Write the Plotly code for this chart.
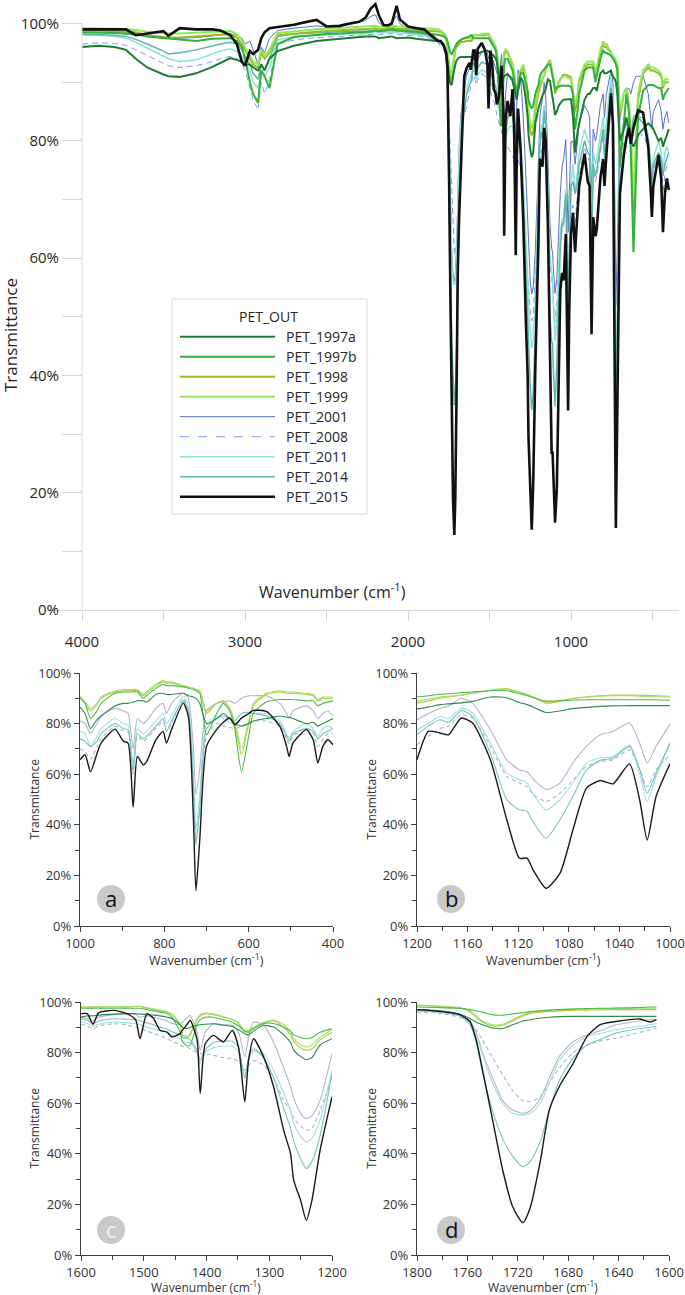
import plotly.graph_objects as go

W, H = 685, 1295
def px(x): return x / W
def py(y): return 1 - y / H

SERIES = ["PET_1997a", "PET_1997b", "PET_1998", "PET_1999", "PET_2001",
          "PET_2008", "PET_2011", "PET_2014", "PET_2015"]
COLORS_MAIN = ["#1e7b34", "#35b03a", "#9cba26", "#8ee85a", "#5b6fc4",
               "#7f9cf0", "#8de3d5", "#5fb5a8", "#111111"]
COLORS_INSET = ["#2e8b50", "#4cbb4c", "#b3c832", "#9fe06c", "#b4b4c8",
                "#aab4c6", "#a3dfdc", "#78c2c0", "#1a1a1a"]
WIDTH_MAIN = [2, 2, 2, 2, 1, 1, 1.5, 1.5, 2.6]
DASH = ["solid", "solid", "solid", "solid", "solid", "6px,4px", "solid", "solid", "solid"]
DRAW_ORDER = [4, 5, 6, 7, 2, 3, 1, 0, 8]
PCT_VALS = [0, 20, 40, 60, 80, 100]
PCT_TEXT = ["0%", "20%", "40%", "60%", "80%", "100%"]

# ---- 4000-1810 cm-1 (main panel only)
WN_HIGH = [4000, 3900, 3800, 3730, 3670, 3600, 3500, 3470, 3400, 3300,
           3200, 3150, 3090, 3050, 3020, 3000, 2970, 2950, 2920, 2900,
           2880, 2850, 2800, 2700, 2600, 2560, 2500, 2420, 2360, 2300,
           2260, 2230, 2200, 2180, 2150, 2120, 2100, 2070, 2050, 2000,
           1950, 1900, 1860, 1830, 1810]
HIGH_1997A = [96, 96.2, 96, 95.5, 94, 92.5, 91.3, 91, 90.9, 91.5, 92.6, 93.3, 94.1, 93.8, 93.5, 93, 93, 92.5, 92, 93,
              92, 94, 95.3, 96.2, 96.8, 97, 97.2, 97.4, 97.6, 97.8, 97.8, 97.8, 97.8, 97.5, 97.6, 97.7, 97.8, 97.5, 97.5, 97.6,
              97.4, 97.2, 97, 97, 97]
HIGH_1997B = [98.5, 98.5, 98.4, 98.3, 98.2, 97.8, 97.5, 97.4, 97.2, 97, 97.4, 97.5, 97.5, 97, 96, 94, 90, 88, 86.5, 92,
              91, 89, 96.5, 97.7, 98, 98.1, 98.2, 98.3, 98.4, 98.5, 98.5, 98.6, 98.8, 98.7, 98.8, 98.9, 99, 98.8, 98.8, 98.7,
              98.6, 98.4, 98.2, 98.1, 98]
HIGH_1998 = [98.8, 98.8, 98.7, 98.6, 98.5, 98, 97.7, 97.6, 97.6, 97.8, 98, 98.1, 98.2, 97.6, 96.5, 95.5, 94, 93, 92.5, 95,
             94, 95, 98, 98.3, 98.5, 98.6, 98.7, 98.8, 98.9, 99, 99, 99.1, 99.2, 99, 99.1, 99.2, 99.3, 99.1, 99.1, 99,
             98.9, 98.8, 98.7, 98.6, 98.6]
HIGH_1999 = [99.2, 99.2, 99.1, 99, 98.9, 98.6, 98.4, 98.3, 98.3, 98.4, 98.5, 98.6, 98.7, 98.2, 97.2, 96, 94.5, 93.5, 93, 95.5,
             94.5, 95.5, 98.4, 98.7, 98.9, 99, 99.1, 99.2, 99.3, 99.4, 99.4, 99.5, 99.6, 99.4, 99.5, 99.6, 99.7, 99.5, 99.5, 99.4,
             99.3, 99.2, 99.1, 99, 99]
HIGH_2001 = [98.5, 98.5, 98.4, 98.2, 98, 97.8, 97.5, 97.4, 97.5, 97.6, 97.9, 98, 98.2, 98, 97.5, 96.5, 97, 95.5, 93, 96,
             95, 97.5, 98.8, 99.2, 99.5, 99.6, 99.4, 99.5, 99.8, 100.2, 100.5, 101.2, 101.5, 100.2, 99.5, 99.6, 100, 101.3, 100, 99,
             98.8, 98.6, 98.3, 97.6, 97.2]
HIGH_2008 = [96.5, 96.7, 96.6, 96.3, 95.5, 94.5, 93.2, 92.8, 92.5, 92.8, 93.5, 94, 94.4, 94, 93, 92, 89, 87, 85.3, 90,
             88, 90.5, 96.5, 97.2, 97.5, 97.6, 97.7, 97.8, 97.9, 98, 98, 98.1, 98.2, 98, 98.1, 98.2, 98.3, 98.1, 98.1, 98,
             97.9, 97.8, 97.4, 97, 96.5]
HIGH_2011 = [98, 98, 97.8, 97.5, 96.8, 95.8, 94.5, 94, 93.5, 93.8, 94.8, 95.3, 95.7, 95.2, 94.5, 93.5, 92, 90, 89, 92,
             91, 92.5, 97.2, 97.8, 98, 98.1, 98.1, 98.2, 98.2, 98.3, 98.3, 98.4, 98.4, 98.3, 98.4, 98.5, 98.5, 98.4, 98.4, 98.3,
             98.2, 98, 97.6, 97.2, 96.8]
HIGH_2014 = [98.2, 98.1, 98, 97.8, 97.3, 96.5, 95.3, 94.8, 95, 95.5, 96.2, 96.5, 96.8, 96.5, 95.5, 94.5, 93, 91.5, 90.5, 93,
             92, 94, 97.8, 98.2, 98.4, 98.5, 98.5, 98.6, 98.6, 98.7, 98.7, 98.8, 98.8, 98.6, 98.7, 98.8, 98.8, 98.7, 98.7, 98.5,
             98.4, 98.2, 97.8, 97.4, 97]
HIGH_2015 = [99, 99, 99, 99, 98, 98.3, 98.7, 97.9, 99.2, 99, 99, 98.8, 98, 96.5, 93.5, 92.8, 95.3, 94.8, 95.5, 97.5,
             98.5, 99.2, 99.4, 99.8, 100.4, 100.6, 99.5, 99.6, 100, 100.3, 101, 102.5, 103.3, 101.5, 99.7, 99.7, 100, 103, 100.7, 99.5,
             99.2, 99, 98, 97.3, 97]

# ---- panel d: 1800-1610 cm-1
WN_D = [1800, 1782, 1766, 1758, 1753, 1748, 1740, 1732, 1724, 1716,
        1710, 1702, 1695, 1687, 1676, 1665, 1655, 1642, 1623, 1615, 1610]
D_1997A = [97, 96.5, 95.2, 93.5, 92, 91, 89.7, 89.5, 91, 92.5, 93, 93.7, 94, 94.2, 94.3, 94.3, 94.3, 94.3, 94.3, 94.3, 94.3]
D_1997B = [98, 97.8, 97.5, 97, 96.5, 96, 95, 94.8, 95.3, 95.8, 96.2, 96.5, 96.8, 97, 97.2, 97.4, 97.5, 97.6, 97.8, 98, 98]
D_1998 = [98.6, 98.2, 97.5, 96, 94, 92, 90.5, 90.8, 92.5, 94.5, 95.5, 96, 96.3, 96.5, 96.8, 96.8, 96.9, 97, 97, 97, 97]
D_1999 = [98.8, 98.4, 97.8, 96.5, 94.5, 92.5, 91, 91.2, 93, 95, 96, 96.5, 96.8, 97, 97.2, 97.3, 97.4, 97.5, 97.5, 97.5, 97.5]
D_2001 = [97, 96.5, 95, 92.5, 88, 80, 70, 61, 57.3, 56, 57, 62, 70, 78.5, 84.4, 87, 88.5, 91, 92.5, 93, 93]
D_2008 = [96, 95.5, 94, 92, 89, 85, 78, 71.2, 65, 61, 60.6, 62.6, 68, 74, 80, 83, 84.5, 85.7, 88, 89, 89.7]
D_2011 = [96.5, 96, 94.5, 92, 87, 79, 68, 60, 56, 55.4, 56, 60, 68, 77, 83, 86.4, 87.5, 89, 90.5, 91, 91.5]
D_2014 = [96.8, 96, 94.5, 91, 84, 72, 57, 46, 39, 34.9, 37, 45, 57.3, 69, 78, 83, 85.1, 87.7, 89.5, 90, 90.4]
D_2015 = [97, 96.3, 95, 92.3, 85, 73.2, 53.4, 33.6, 19, 12.8, 19, 37.5, 57.3, 66.6, 75.8, 86.4, 91, 92.3, 93.3, 92.1, 93]

# ---- panel c: 1600-1200 cm-1
WN_C = [1600, 1590, 1581, 1572, 1548, 1527, 1513, 1506, 1495, 1484,
        1474, 1463, 1455, 1442, 1438, 1430, 1426, 1415, 1410, 1402,
        1389, 1373, 1359, 1349, 1339, 1333, 1325, 1309, 1293, 1277,
        1266, 1261, 1250, 1241, 1232, 1219, 1200]
C_1997A = [94, 94.5, 94.5, 94.8, 95.2, 95.4, 95.4, 95.2, 95, 94.8, 94.5, 94, 93.5, 91, 90, 89.5, 90, 90.8, 91, 91.2,
           91.4, 90.8, 90.3, 89, 87.5, 87, 88.5, 90.8, 90, 87, 84, 81, 78.5, 77.2, 78, 83, 85.5]
C_1997B = [97.5, 97.5, 97.5, 97.5, 97.5, 97.5, 97.5, 97.5, 97, 96.5, 96, 95.5, 94, 88, 84.2, 82.5, 83, 91, 93, 94,
           94, 93, 92, 90.5, 88.5, 88, 89.5, 91.5, 91.5, 90, 88.5, 87, 86, 85.5, 86, 88, 89.5]
C_1998 = [98, 98, 98, 98, 98, 98, 98.2, 98.2, 97.5, 97, 96.5, 96, 95, 91, 86.2, 86, 87, 93, 94.5, 95.4,
          95, 94, 93, 91.5, 88.1, 88.5, 89.5, 91.5, 92.5, 90, 87, 84.5, 81.8, 80.9, 81.5, 85, 88.1]
C_1999 = [98, 98, 98, 98, 98.2, 98.2, 98.3, 98.3, 97.8, 97.3, 96.8, 96.2, 95.3, 91.5, 87, 86.5, 87.5, 93.5, 95, 95.6,
          95.2, 94.2, 93.2, 91.8, 88.5, 89, 90, 92, 93, 91, 88, 85.5, 83, 82.2, 83, 86, 89]
C_2001 = [94, 93.5, 92.5, 94, 95, 95.4, 95, 94, 94.5, 94, 93.4, 92.5, 91.5, 91, 92, 94, 94.7, 88, 80.9, 88,
          91.4, 91, 90.8, 88, 78.3, 86, 92.1, 90.8, 84, 74, 66.4, 62, 56, 53.9, 55, 61.1, 79.6]
C_2008 = [91.2, 90.5, 89.5, 90.5, 91.4, 91, 90, 89.5, 88.5, 87.5, 86.8, 85.5, 84.5, 83, 82.5, 82, 81.5, 80, 79.6, 79.5,
          78.9, 78, 77.6, 76.5, 73, 75, 76.9, 75, 70, 61, 57, 54, 51, 49.3, 50, 57.2, 70.4]
C_2011 = [92.1, 91.5, 90.5, 91.2, 92.1, 91.8, 91.5, 91, 90, 89.3, 88.8, 88, 87, 85.5, 84.5, 84, 84, 80, 75.6, 80,
          81.9, 82.5, 82.5, 80.5, 70.4, 77, 80.5, 79.5, 73, 64, 57, 52, 47, 44.7, 46, 53.5, 73]
C_2014 = [93.4, 92.8, 91.5, 92.5, 93.4, 93.2, 93, 92.5, 91.8, 91, 90.1, 89.3, 88.2, 87, 86, 85.5, 85, 81, 77, 81,
          84, 84.5, 84.5, 82, 69.7, 78, 81.5, 78, 70, 58, 50, 45, 38, 34.1, 37, 47.2, 71.7]
C_2015 = [95.4, 95.4, 91.2, 95.7, 96.7, 95.4, 93, 85.5, 95.4, 93.4, 88.8, 88.1, 86.2, 87.5, 89, 91.5, 92.8, 85, 63.8, 83.5,
          86.8, 84.2, 88.8, 82.2, 60.5, 76.9, 85.5, 78.3, 66.4, 49.3, 40, 29.5, 21.6, 13.7, 21.6, 41.4, 62.5]

# ---- panel b: 1200-1000 cm-1
WN_B = [1200, 1191, 1182, 1175, 1165, 1156, 1142, 1129, 1119, 1113, 1108,
        1098, 1087, 1076, 1066, 1055, 1045, 1032, 1024, 1018, 1011, 1000]
B_1997A = [85.8, 86.5, 87.5, 87.8, 88.2, 88.8, 90.5, 90.2, 88.3, 87.5, 86.5, 84.4, 85, 86, 86.4, 86.8, 87, 87.1, 87.1, 87.1, 87.1, 87.1]
B_1997B = [90.5, 91, 91.6, 91.8, 92.2, 92.5, 93, 93, 91.8, 91, 90.2, 88.8, 89, 89.3, 89.4, 89.4, 89.4, 89.4, 89.4, 89.4, 89.4, 89.2]
B_1998 = [88.1, 89, 90, 90.5, 91.2, 92, 93.2, 93.8, 92.5, 91.6, 90.5, 88.1, 88.8, 90, 90.6, 91, 91.3, 91.3, 91.2, 91.1, 91, 90.8]
B_1999 = [88.8, 89.6, 90.5, 90.8, 91.3, 92, 93.2, 93.6, 92.3, 91.4, 90.3, 88.8, 89.2, 90, 90.4, 90.8, 91, 91, 90.8, 90.7, 90.6, 90.5]
B_2001 = [81.5, 84, 86, 87, 90, 88, 77.6, 65.7, 61.7, 61, 58, 54, 56.5, 65, 71, 75.6, 76.9, 80.2, 72.3, 64.4, 71, 79.8]
B_2008 = [71.6, 75, 78, 79, 83.5, 82.2, 71, 59.1, 56.5, 55.1, 52, 49.2, 52.5, 58, 63.1, 65, 65.7, 69.7, 62, 55.1, 61.7, 67.7]
B_2011 = [77.6, 80, 82.8, 82, 86.1, 84.2, 72.3, 60.4, 57.8, 56.5, 52, 45.9, 49.9, 57, 64.4, 66.5, 67, 71.6, 60, 49.2, 59.1, 72.3]
B_2014 = [75.6, 79, 81.5, 80.5, 85.2, 82.8, 68.3, 49.9, 45.9, 45.3, 41, 34.7, 42, 52, 61.7, 65.5, 66.4, 71, 62, 52.5, 60.4, 72.3]
B_2015 = [65.7, 76.9, 76.3, 75.6, 82.2, 80.2, 65.7, 42, 26.8, 26.8, 22, 14.9, 20.8, 39.3, 54.5, 57.5, 56.2, 64.1, 49.9, 34, 51.2, 64.1]

# ---- panel a: 1000-400 cm-1
WN_A = [1000, 988, 975, 960, 950, 917, 897, 886, 874, 864,
        850, 842, 820, 803, 795, 783, 755, 743, 731, 725,
        716, 700, 676, 660, 645, 633, 617, 600, 589, 558,
        526, 510, 504, 495, 463, 447, 436, 424, 412, 400]
A_1997A = [86.5, 84, 78, 81.5, 83, 87, 88, 88, 88.5, 89, 89, 88.5, 91.5, 92, 91.5, 91.5, 92, 91, 90.5, 90,
           88, 80, 82, 84, 82, 80, 79, 80, 81, 82, 83, 82.5, 82.5, 82, 80, 80.5, 79, 80, 81, 82]
A_1997B = [90, 88, 82, 85, 88, 92, 92.5, 92.5, 92.5, 92.5, 90, 91, 94, 95.5, 95, 95, 94.5, 94, 93.5, 93,
           92, 75.6, 84, 88, 85, 78, 61, 75, 84, 88.5, 89.5, 89.5, 89.5, 89.5, 89, 89, 87, 88, 88.5, 89]
A_1998 = [90.5, 88, 85, 87.5, 90, 92.5, 93, 93, 93, 93, 91, 92, 95, 96.5, 96, 96, 95, 94.5, 94, 93.5,
          93, 84, 88, 89, 86, 80, 67.7, 80, 87, 91.5, 92.5, 92, 92, 92, 91.5, 91, 89, 90, 90, 90]
A_1999 = [91, 88.5, 86, 88, 90.5, 93, 93.5, 93.5, 93.5, 93.5, 91.5, 92.5, 95.5, 97, 96.5, 96.5, 95, 94.5, 94, 93.5,
          93, 85, 88, 89, 86, 81, 70, 81, 88, 92, 93, 92.5, 92.5, 92.5, 92, 91.5, 89.5, 90.5, 90.5, 90.5]
A_2001 = [81, 80, 76, 80, 83, 86, 85, 84, 70, 82, 80, 81, 86, 88, 84, 88, 92, 90, 70, 52,
          62, 85, 88, 88.5, 89, 88, 90, 91, 91, 91, 88, 84, 82, 85, 87, 85, 82, 84, 85, 83]
A_2008 = [70, 69, 66, 71, 74, 79, 77, 76.5, 60, 75, 73, 74, 78, 81, 77, 80, 90, 85, 55, 33,
          48, 75, 80, 79, 78.5, 78, 79, 80.5, 81, 81, 79, 74, 72, 75, 78, 76, 71, 74, 76, 76]
A_2011 = [77, 76, 71, 75, 78, 82, 80, 79.5, 63, 78, 76, 77, 81, 84, 80, 83, 91, 87, 60, 38,
          52, 80, 83, 82, 80.5, 80, 82, 84, 84, 84, 81, 76, 74, 77, 80, 78, 75, 78, 79, 78]
A_2014 = [74, 73, 71, 73, 76, 80, 78, 77.5, 61, 76, 74, 75, 79, 82, 77, 81, 89, 85, 55, 32,
          46, 78, 82, 83, 82, 81, 84, 84.5, 84, 83, 80, 75, 73, 76, 78, 77, 74, 76, 77, 78]
A_2015 = [65.7, 67.7, 61, 68, 72.3, 77.8, 73, 72.3, 47, 67, 63.7, 65, 73.6, 76.9, 72.3, 77.6, 88.1, 82.8, 42, 14,
          34, 71, 77.6, 80.5, 82.2, 79.5, 82.2, 84, 85.2, 84.8, 78.9, 71, 67, 72.3, 77.6, 73.6, 64.4, 71, 73.6, 71.6]

HIGH = [HIGH_1997A, HIGH_1997B, HIGH_1998, HIGH_1999, HIGH_2001, HIGH_2008, HIGH_2011, HIGH_2014, HIGH_2015]
PD = [D_1997A, D_1997B, D_1998, D_1999, D_2001, D_2008, D_2011, D_2014, D_2015]
PC = [C_1997A, C_1997B, C_1998, C_1999, C_2001, C_2008, C_2011, C_2014, C_2015]
PB = [B_1997A, B_1997B, B_1998, B_1999, B_2001, B_2008, B_2011, B_2014, B_2015]
PA = [A_1997A, A_1997B, A_1998, A_1999, A_2001, A_2008, A_2011, A_2014, A_2015]

fig = go.Figure()

# main panel: full spectrum assembled from the regions
for i in DRAW_ORDER:
    xs = WN_HIGH + WN_D + WN_C + WN_B[1:] + WN_A[1:]
    ys = HIGH[i] + PD[i] + PC[i] + PB[i][1:] + PA[i][1:]
    fig.add_trace(go.Scatter(x=xs, y=ys, mode="lines", name=SERIES[i], showlegend=False,
                             line=dict(color=COLORS_MAIN[i], width=WIDTH_MAIN[i], dash=DASH[i]),
                             xaxis="x", yaxis="y"))

panels = [("x2", "y2", WN_A, PA), ("x3", "y3", WN_B, PB), ("x4", "y4", WN_C, PC), ("x5", "y5", WN_D, PD)]
for xa, ya, wn, data in panels:
    for i in DRAW_ORDER:
        fig.add_trace(go.Scatter(x=wn, y=data[i], mode="lines", name=SERIES[i], showlegend=False,
                                 line=dict(color=COLORS_INSET[i], width=1.4 if i == 8 else 1.1,
                                           dash="4px,3px" if i == 5 else "solid",
                                           shape="spline", smoothing=0.6),
                                 xaxis=xa, yaxis=ya))

LIGHT = "#d9d9d9"
TXT = "#262626"
fig.update_layout(
    width=W, height=H, margin=dict(l=0, r=0, t=0, b=0, pad=0, autoexpand=False),
    paper_bgcolor="white", plot_bgcolor="white", showlegend=False,
    font=dict(family="Open Sans", color=TXT),
    xaxis=dict(domain=[px(48), px(679)], range=[4208.6, 337.6], anchor="y", automargin=False,
               tick0=0, dtick=1000, ticks="outside", ticklen=10, tickcolor=LIGHT,
               minor=dict(tick0=0, dtick=500, ticks="outside", ticklen=10, tickcolor=LIGHT),
               showline=True, linecolor=LIGHT, showgrid=False, zeroline=False,
               tickfont=dict(size=15, color=TXT), ticklabelstandoff=8),
    yaxis=dict(domain=[py(610), 1.0], range=[0, 610 / 5.865], anchor="free", position=px(82), automargin=False,
               tickvals=PCT_VALS, ticktext=PCT_TEXT, ticks="outside", ticklen=20,
               tickcolor=LIGHT, minor=dict(tickvals=[10, 30, 50, 70, 90], ticks="outside", ticklen=20, tickcolor=LIGHT),
               showline=False, showgrid=False, zeroline=False, tickfont=dict(size=15, color=TXT)),
)

def inset_xaxis(xdom, xr, dt, mdt, yname):
    return dict(domain=xdom, range=xr, anchor=yname, automargin=False, tick0=0, dtick=dt, ticks="outside", ticklen=5,
                tickcolor="#404040", showline=True, linecolor="#404040", linewidth=1.2,
                minor=dict(tick0=0, dtick=mdt, ticks="outside", ticklen=4, tickcolor="#404040"),
                showgrid=False, zeroline=False, tickfont=dict(size=13, color="#333333"))

def inset_yaxis(ydom, xname):
    return dict(domain=ydom, range=[0, 100], anchor=xname, automargin=False, tickvals=PCT_VALS, ticktext=PCT_TEXT,
                ticks="outside", ticklen=5, tickcolor="#404040", showline=True, linecolor="#404040", linewidth=1.2,
                minor=dict(tickvals=[10, 30, 50, 70, 90], ticks="outside", ticklen=4, tickcolor="#404040"),
                showgrid=False, zeroline=False, tickfont=dict(size=13, color="#333333"))

top_dom = [py(926), py(673)]
bot_dom = [py(1255), py(1002)]
fig.update_layout(
    xaxis2=inset_xaxis([px(80), px(333)], [1000, 400], 200, 100, "y2"),
    yaxis2=inset_yaxis(top_dom, "x2"),
    xaxis3=inset_xaxis([px(417), px(670)], [1200, 1000], 40, 20, "y3"),
    yaxis3=inset_yaxis(top_dom, "x3"),
    xaxis4=inset_xaxis([px(81), px(332)], [1600, 1200], 100, 50, "y4"),
    yaxis4=inset_yaxis(bot_dom, "x4"),
    xaxis5=inset_xaxis([px(417), px(669)], [1800, 1600], 40, 20, "y5"),
    yaxis5=inset_yaxis(bot_dom, "x5"),
)

shapes = []
ann = []

def label(text, x, y, size, color=TXT, xanchor="center", angle=0):
    ann.append(dict(text=text, x=px(x), y=py(y), xref="paper", yref="paper", xanchor=xanchor,
                    yanchor="middle", textangle=angle, showarrow=False,
                    font=dict(size=size, color=color)))

# main y-axis line
shapes.append(dict(type="line", xref="paper", yref="y", x0=px(82), x1=px(82), y0=0, y1=100,
                   line=dict(color=LIGHT, width=1)))
# main titles
label("Wavenumber (cm<sup>-1</sup>)", 332, 591, 16)
label("Transmittance", 11, 335, 17, angle=-90)

# manual legend
shapes.append(dict(type="rect", xref="paper", yref="paper", x0=px(172), x1=px(367), y0=py(514), y1=py(299),
                   line=dict(color=LIGHT, width=1), fillcolor="white", layer="above"))
label("PET_OUT", 268, 316, 14)
for i, name in enumerate(SERIES):
    yy = 336.7 + 20 * i
    shapes.append(dict(type="line", xref="paper", yref="paper", x0=px(180), x1=px(275), y0=py(yy), y1=py(yy),
                       line=dict(color=COLORS_MAIN[i], width=WIDTH_MAIN[i],
                                 dash="dash" if DASH[i] != "solid" else "solid"),
                       layer="above"))
    label(name, 284, yy, 14, xanchor="left")

# inset titles and letter badges
for cx, ty, fs in [(206.5, 960, 12.5), (543.5, 960, 12.5), (206.5, 1286.5, 12), (543, 1286.5, 12)]:
    label("Wavenumber (cm<sup>-1</sup>)", cx, ty, fs, color="#333333")
for lx, ycen in [(34, 799.5), (371, 799.5), (34, 1128.5), (371, 1128.5)]:
    label("Transmittance", lx, ycen, 12, color="#333333", angle=-90)
for letter, cx, cy, col in [("a", 111, 899, "#111111"), ("b", 451, 899, "#111111"),
                            ("c", 111, 1230, "#f4f4f4"), ("d", 451, 1230, "#111111")]:
    r = 14
    shapes.append(dict(type="circle", xref="paper", yref="paper", x0=px(cx - r), x1=px(cx + r),
                       y0=py(cy + r), y1=py(cy - r), fillcolor="#c9c9c9", line=dict(width=0)))
    label(letter, cx, cy - 1, 22, color=col)

fig.update_layout(shapes=shapes, annotations=ann)
fig.write_html("out.html", config={"displayModeBar": False},
               post_script="document.body.style.margin='0px';document.body.style.overflow='hidden';")
